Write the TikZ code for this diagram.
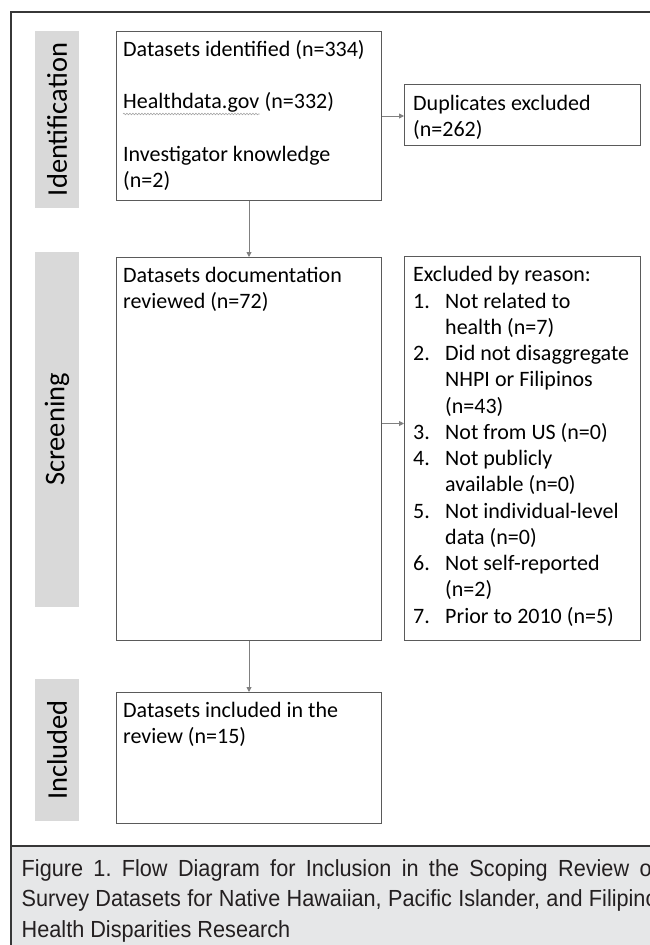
\documentclass[tikz,border=0pt]{standalone}
\usepackage{fontspec}
\usepackage{xcolor}
\usetikzlibrary{arrows.meta,decorations.pathmorphing}

\setmainfont{Carlito}
\newfontfamily\boxfont{Carlito}
\newfontfamily\capfont[FakeStretch=0.93]{Liberation Sans}
\frenchspacing

\definecolor{stagegray}{RGB}{217,217,217}
\definecolor{boxline}{RGB}{90,90,90}
\definecolor{arrowgray}{RGB}{128,128,128}
\definecolor{framegray}{RGB}{55,55,55}
\definecolor{capgray}{RGB}{230,231,232}
\definecolor{captext}{RGB}{35,31,32}

\tikzset{
  stage/.style={fill=stagegray, rotate=90, minimum height=44pt, inner sep=0,
    font=\boxfont\fontsize{28.5pt}{32pt}\selectfont},
  flowbox/.style={draw=boxline, line width=1pt, anchor=north west, inner sep=0},
  txt/.style={anchor=base west, inner sep=0, font=\boxfont\fontsize{22pt}{26.25pt}\selectfont},
  captxt/.style={anchor=base west, inner sep=0, text=captext,
    font=\capfont\fontsize{23.3pt}{30pt}\selectfont},
  flowarrow/.style={draw=arrowgray, line width=0.9pt, -{Triangle[length=5pt,width=5pt]}},
  wavy/.style={draw=gray!70, line width=0.6pt, decorate,
    decoration={snake, amplitude=0.8pt, segment length=3pt}},
}

\begin{document}
\begin{tikzpicture}[x=1pt,y=-1pt]
\useasboundingbox (0,0) rectangle (650,945);
\clip (0,0) rectangle (650,945);
\fill[white] (0,0) rectangle (650,945);

% caption band and frame
\fill[capgray] (12,847) rectangle (700,960);
\draw[framegray, line width=2.5pt] (11,960) -- (11,12) -- (700,12);
\draw[framegray, line width=2.5pt] (11,846) -- (700,846);

% stages
\node[stage, minimum width=177pt] (identlab) at (57,119.5) {Identification};
\node[stage, minimum width=355pt] (screenlab) at (57,429.5) {Screening};
\node[stage, minimum width=142pt] (incllab) at (57,750) {Included};

% boxes
\node[flowbox, minimum width=265pt, minimum height=169pt] (ident) at (116,31) {};
\node[flowbox, minimum width=236pt, minimum height=61pt] (dup) at (404,84) {};
\node[flowbox, minimum width=265pt, minimum height=383pt] (screen) at (116,257) {};
\node[flowbox, minimum width=236pt, minimum height=384pt] (excl) at (404,256) {};
\node[flowbox, minimum width=265pt, minimum height=131pt] (incl) at (116,692) {};

% box texts
\node[txt] (idt1) at (123,56) {Datasets identified (n=334)};
\node[txt] (idt2) at (123,108.5) {Healthdata.gov};
\node[txt] (idt3) at (idt2.base east) {\ (n=332)};
\draw[wavy] ([yshift=-5.5pt]idt2.base west) -- ([yshift=-5.5pt]idt2.base east);
\node[txt] (idt4) at (123,161) {Investigator knowledge};
\node[txt] (idt5) at (123,187.25) {(n=2)};

\node[txt] (dupt1) at (413,110) {Duplicates excluded};
\node[txt] (dupt2) at (413,136.25) {(n=262)};

\node[txt] (scrt1) at (123,282) {Datasets documentation};
\node[txt] (scrt2) at (123,308.25) {reviewed (n=72)};

\node[txt] (exct0) at (413,281.75) {Excluded by reason:};
\foreach \n/\row in {1/1, 2/3, 3/6, 4/7, 5/9, 6/11, 7/13}
  \node[txt] (excn\n) at (413,281.75+26.25*\row) {\n.};
\foreach \t [count=\i] in {Not related to, health (n=7), Did not disaggregate,
    NHPI or Filipinos, (n=43), Not from US (n=0), Not publicly, available (n=0),
    Not individual-level, data (n=0), Not self-reported, (n=2), Prior to 2010 (n=5)}
  \node[txt] (exct\i) at (445,281.75+26.25*\i) {\t};

\node[txt] (inct1) at (123,717.5) {Datasets included in the};
\node[txt] (inct2) at (123,743.75) {review (n=15)};

% arrows
\draw[flowarrow] (ident.east) -- (ident.east -| dup.west);
\draw[flowarrow] (ident.south) -- (screen.north);
\draw[flowarrow] ([yshift=25.5pt]screen.east) -- ([yshift=25.5pt]screen.east -| excl.west);
\draw[flowarrow] (screen.south) -- (incl.north);

% caption
\node[captxt] (cap1) at (21.5,876) {\makebox[636pt][s]{Figure 1. Flow Diagram for Inclusion in the Scoping Review of}};
\node[captxt] (cap2) at (21.5,906.5) {\makebox[636pt][s]{Survey Datasets for Native Hawaiian, Pacific Islander, and Filipino}};
\node[captxt] (cap3) at (21.5,937) {Health Disparities Research};

\end{tikzpicture}
\end{document}
